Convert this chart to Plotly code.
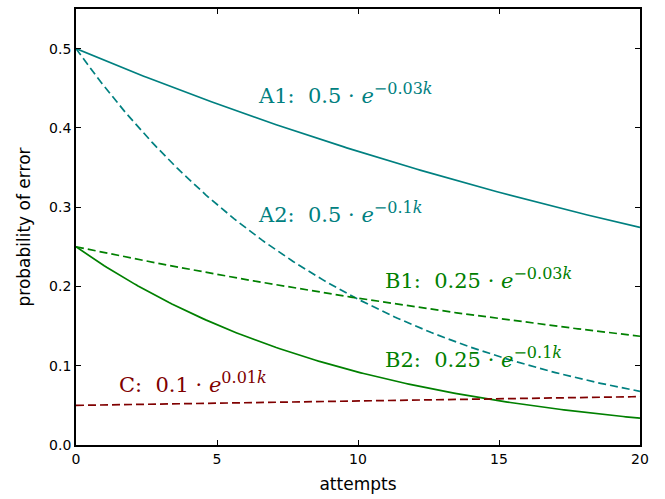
import numpy as np
import plotly.graph_objects as go

# attempt counter
k_max = 20
k = np.linspace(0, k_max, 201)

# series: name, amplitude, rate, colour, dash
names = ["A1", "A2", "B1", "B2", "C"]
amplitudes = [0.5, 0.5, 0.25, 0.25, 0.05]
rates = [-0.03, -0.1, -0.03, -0.1, 0.01]
colors = ["#008080", "#008080", "#008000", "#008000", "#800000"]
dashes = ["solid", "8px,4px", "8px,4px", "solid", "8px,4px"]

# annotation text and where it sits (k, probability)
exponents = ["−0.03", "−0.1", "−0.03", "−0.1", "0.01"]
prefixes = ["A1:  0.5", "A2:  0.5", "B1:  0.25", "B2:  0.25", "C:  0.1"]
label_texts = [
    f"{p} · <i>e</i><sup><span style='font-size:16px'>{e}<i>k</i></span></sup>"
    for p, e in zip(prefixes, exponents)
]
label_k = [6.4, 6.4, 10.9, 10.9, 1.45]
label_p = [0.444, 0.293, 0.210, 0.111, 0.079]

fig = go.Figure()
for n, a, r, c, d in zip(names, amplitudes, rates, colors, dashes):
    fig.add_trace(go.Scatter(
        x=k, y=a * np.exp(r * k), mode="lines", name=n,
        line=dict(color=c, width=1.7, dash=d),
        showlegend=False, hoverinfo="skip",
    ))

for t, lx, ly, c in zip(label_texts, label_k, label_p, colors):
    fig.add_annotation(
        x=lx, y=ly, text=t, showarrow=False, xanchor="left", yanchor="middle",
        font=dict(family="DejaVu Serif, Liberation Serif, serif", size=21, color=c),
    )

axis_common = dict(
    showline=True, linecolor="black", linewidth=1.8, mirror="allticks",
    ticks="inside", ticklen=5, tickwidth=1, tickcolor="black",
    showgrid=False, zeroline=False,
    tickfont=dict(family="DejaVu Sans, sans-serif", size=14, color="black"),
)

fig.update_xaxes(
    range=[0, 20], tickvals=[0, 5, 10, 15, 20],
    title=dict(text="attempts", font=dict(family="DejaVu Sans, sans-serif", size=17, color="black"), standoff=12),
    **axis_common,
)
fig.update_yaxes(
    range=[0, 0.55], tickvals=[0, 0.1, 0.2, 0.3, 0.4, 0.5], tickformat=".1f",
    title=dict(text="probability of error", font=dict(family="DejaVu Sans, sans-serif", size=17, color="black"), standoff=14),
    **axis_common,
)

fig.update_layout(
    width=665, height=499,
    margin=dict(l=76, r=25, t=7, b=54),
    plot_bgcolor="white", paper_bgcolor="white",
)

fig.write_html("out.html")
